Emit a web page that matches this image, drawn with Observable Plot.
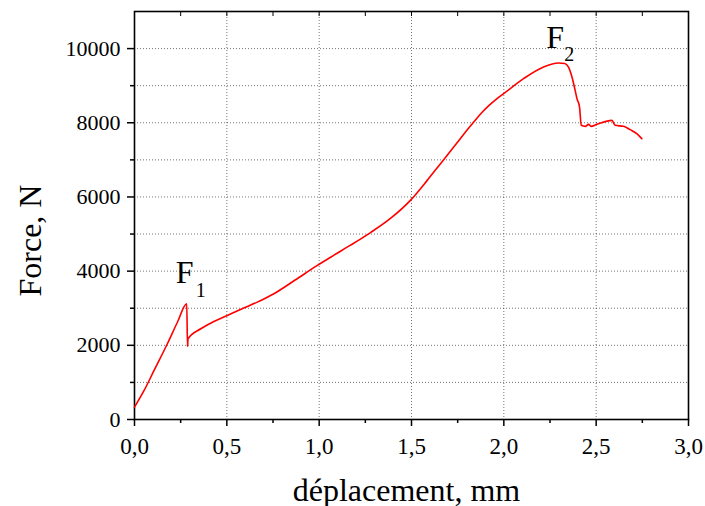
<!DOCTYPE html>
<html><head><meta charset="utf-8">
<script src="https://cdn.jsdelivr.net/npm/d3@7"></script>
<script src="https://cdn.jsdelivr.net/npm/@observablehq/plot@0.6"></script>
<style>body{margin:0;background:#fff}</style>
</head><body><div id="chart"></div>
<script>
const displacement = [0, 0.052, 0.106, 0.178, 0.233, 0.283, 0.287, 0.290, 0.359, 0.430, 0.503, 0.580, 0.665, 0.755, 0.870, 0.990, 1.080, 1.170, 1.278, 1.386, 1.494, 1.585, 1.657, 1.750, 1.800, 1.837, 1.880, 1.920, 1.960, 1.999, 2.107, 2.215, 2.296, 2.330, 2.350, 2.369, 2.385, 2.396, 2.410, 2.419, 2.441, 2.459, 2.472, 2.504, 2.585, 2.603, 2.648, 2.684, 2.720, 2.747];
const force = [332, 782, 1322, 2042, 2628, 3121, 1969, 2177, 2447, 2640, 2805, 2980, 3164, 3391, 3760, 4154, 4430, 4700, 5040, 5420, 5908, 6447, 6898, 7480, 7800, 8020, 8270, 8470, 8640, 8786, 9190, 9504, 9612, 9600, 9500, 9234, 8900, 8651, 8425, 7931, 7904, 7958, 7904, 7958, 8066, 7931, 7904, 7815, 7707, 7572];

const xTickValues = [0, 0.5, 1, 1.5, 2, 2.5, 3];
const xMinorTicks = [0.25, 0.75, 1.25, 1.75, 2.25, 2.75];
const xTopTicks = [0.25, 0.5, 0.75, 1, 1.25, 1.5, 1.75, 2, 2.25, 2.5, 2.75];
const yTickValues = [0, 2000, 4000, 6000, 8000, 10000];
const yMinorTicks = [1000, 3000, 5000, 7000, 9000];
const xGridValues = [0.5, 1, 1.5, 2, 2.5];
const yGridValues = [1000, 2000, 3000, 4000, 5000, 6000, 7000, 8000, 9000, 10000];
const xTitle = "déplacement, mm";
const yTitle = "Force, N";
const peakLabels = ["F", "F"];
const peakLabelX = [0.223, 2.230];
const peakLabelY = [3669, 10008];
const peakSubs = ["1", "2"];
const peakSubX = [0.332, 2.327];
const peakSubY = [3291, 9657];

const curve = displacement.map((d, i) => ({x: d, y: force[i]}));
const labels = peakLabels.map((t, i) => ({t, x: peakLabelX[i], y: peakLabelY[i]}));
const subs = peakSubs.map((t, i) => ({t, x: peakSubX[i], y: peakSubY[i]}));
const fmt = d => d.toFixed(1).replace(".", ",");

const chart = Plot.plot({
  width: 705,
  height: 506,
  marginLeft: 134,
  marginRight: 17,
  marginTop: 11,
  marginBottom: 87,
  style: {fontFamily: "'Liberation Serif', 'Times New Roman', serif", background: "#fff", color: "#000"},
  x: {domain: [0, 3]},
  y: {domain: [0, 11000]},
  marks: [
    Plot.gridX(xGridValues, {stroke: "#000", strokeOpacity: 0.55, strokeDasharray: "1,2", strokeWidth: 1}),
    Plot.gridY(yGridValues, {stroke: "#000", strokeOpacity: 0.55, strokeDasharray: "1,2", strokeWidth: 1}),
    Plot.axisX(xTickValues, {tickSize: 7, tickPadding: 11, tickFormat: fmt, fontSize: 23, label: null, strokeWidth: 1.5}),
    Plot.axisX(xMinorTicks, {tickSize: 4, tickFormat: () => "", label: null, strokeWidth: 1.5}),
    Plot.axisX(xTopTicks, {anchor: "top", tickSize: -4, tickFormat: () => "", label: null, strokeWidth: 1}),
    Plot.axisY(yTickValues, {tickSize: 7, tickPadding: 7, tickFormat: d => String(d), fontSize: 22, label: null, strokeWidth: 1.5}),
    Plot.axisY(yMinorTicks, {tickSize: 4, tickFormat: () => "", label: null, strokeWidth: 1.5}),
    Plot.frame({stroke: "#000", strokeWidth: 1.6}),
    Plot.line(curve, {x: "x", y: "y", stroke: "#ff0000", strokeWidth: 1.6, curve: "monotone-x"}),
    Plot.text(labels, {x: "x", y: "y", text: "t", fontSize: 32, textAnchor: "start", lineAnchor: "bottom", fill: "#000"}),
    Plot.text(subs, {x: "x", y: "y", text: "t", fontSize: 20, textAnchor: "start", lineAnchor: "bottom", fill: "#000"}),
    Plot.text([xTitle], {frameAnchor: "bottom", dx: -5, dy: 81, lineAnchor: "bottom", fontSize: 32, fill: "#000"}),
    Plot.text([yTitle], {frameAnchor: "left", dx: -104, dy: 81, rotate: -90, lineAnchor: "middle", fontSize: 32, fill: "#000"})
  ]
});
document.getElementById("chart").append(chart);
</script>
</body></html>
